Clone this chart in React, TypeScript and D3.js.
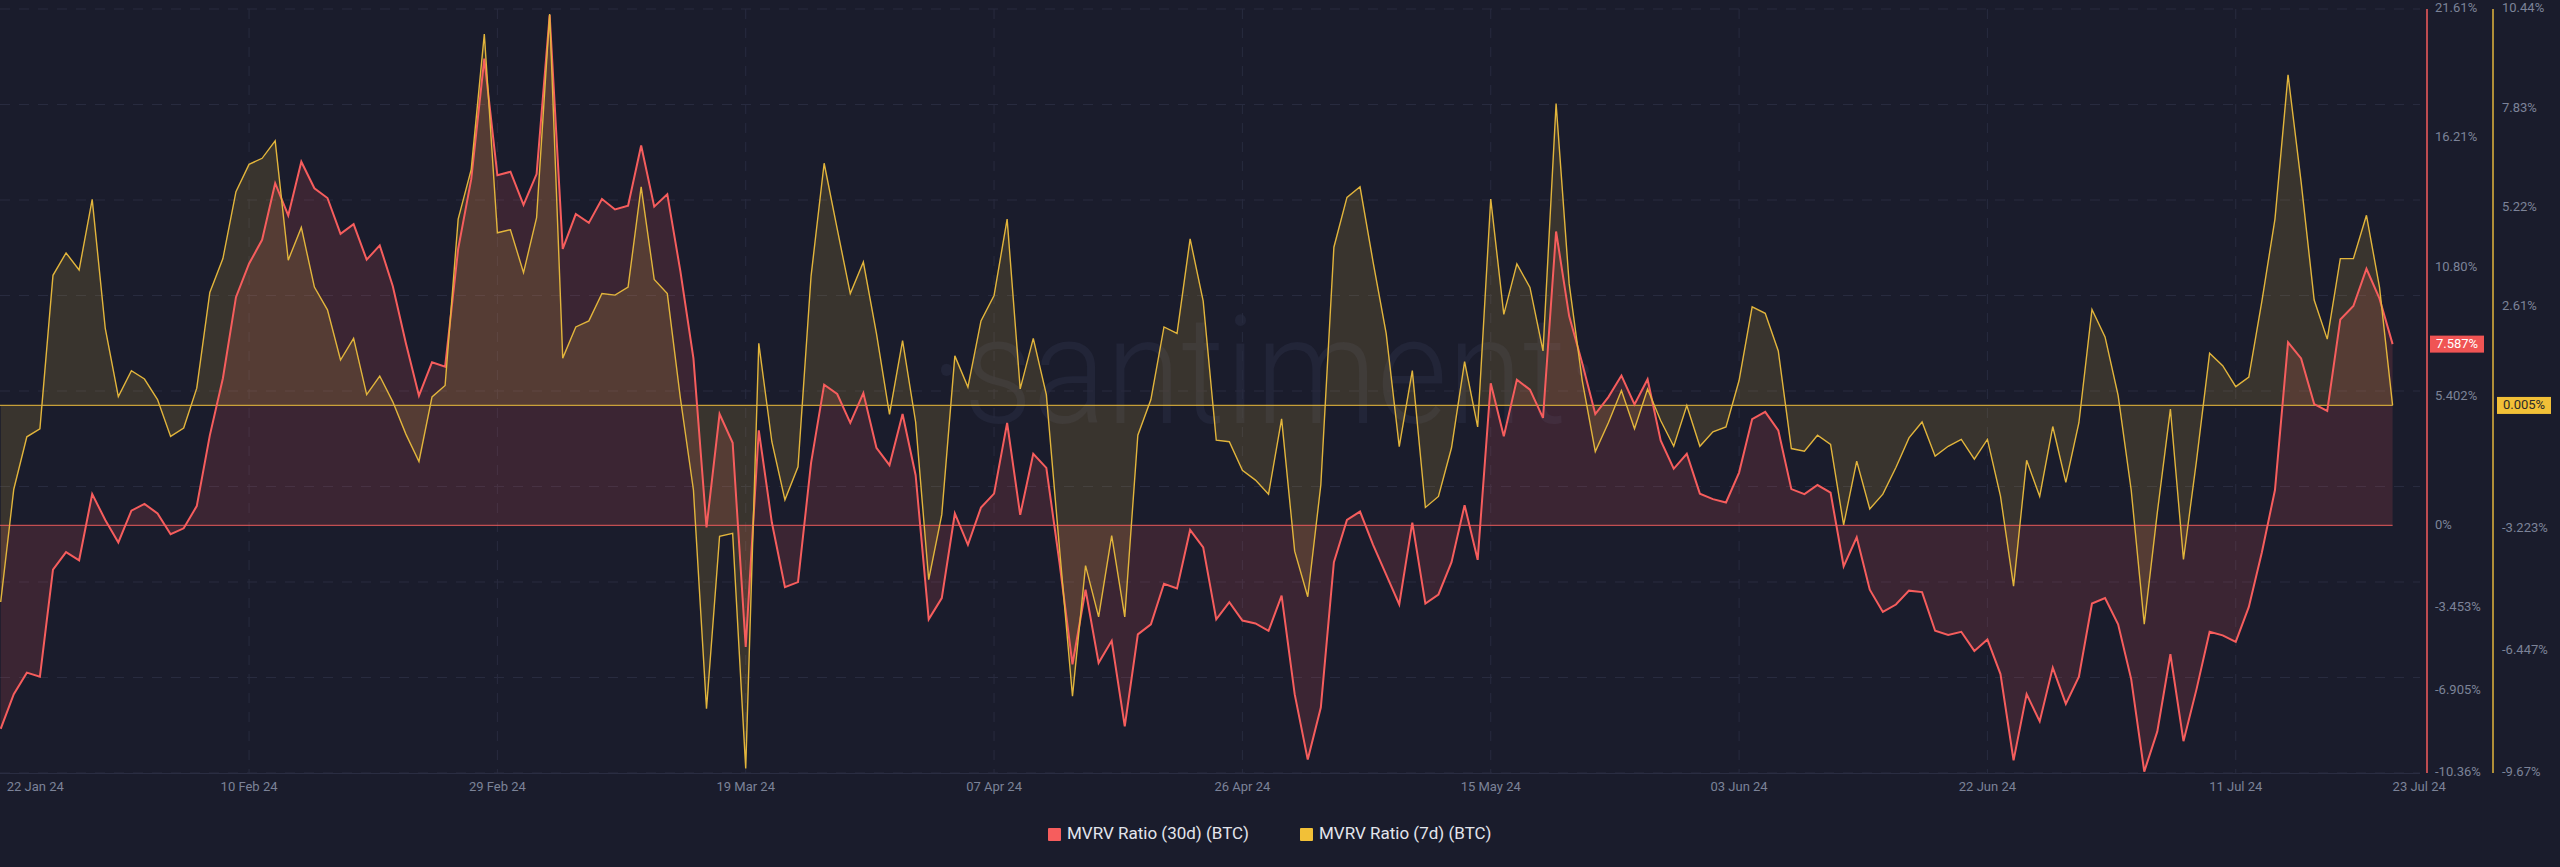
import React from 'react';
import * as d3 from 'd3';

const START_DATE = '2024-01-22';

// MVRV Ratio (30d) (BTC), % daily values
const red30: number[] = [
  -8.51, -7.06, -6.16, -6.33, -1.85, -1.12, -1.46, 1.31, 0.23, -0.71,
  0.62, 0.90, 0.50, -0.37, -0.12, 0.81, 3.77, 6.16, 9.55, 10.95,
  11.95, 14.32, 12.97, 15.22, 14.11, 13.70, 12.20, 12.61, 11.12, 11.72,
  10.01, 7.62, 5.43, 6.83, 6.64, 11.57, 14.49, 19.53, 14.65, 14.80,
  13.41, 14.70, 21.36, 11.57, 13.03, 12.66, 13.66, 13.22, 13.38, 15.90,
  13.34, 13.86, 10.64, 6.99, -0.08, 4.66, 3.46, -5.08, 3.98, 0.12,
  -2.58, -2.37, 2.62, 5.89, 5.50, 4.29, 5.54, 3.25, 2.52, 4.66,
  2.10, -3.93, -3.04, 0.50, -0.81, 0.75, 1.33, 4.29, 0.44, 3.00,
  2.41, -1.54, -5.81, -2.69, -5.75, -4.83, -8.41, -4.56, -4.14, -2.44,
  -2.64, -0.19, -0.92, -3.93, -3.21, -3.98, -4.10, -4.41, -2.94, -7.06,
  -9.80, -7.62, -1.54, 0.23, 0.58, -0.81, -2.06, -3.31, 0.12, -3.27,
  -2.89, -1.54, 0.85, -1.44, 5.95, 3.73, 6.10, 5.68, 4.50, 12.30,
  8.76, 6.79, 4.66, 5.37, 6.27, 5.06, 6.12, 3.56, 2.37, 3.00,
  1.33, 1.10, 0.96, 2.21, 4.45, 4.75, 3.98, 1.52, 1.31, 1.69,
  1.37, -1.71, -0.50, -2.69, -3.62, -3.31, -2.73, -2.79, -4.41, -4.58,
  -4.45, -5.25, -4.77, -6.22, -9.83, -7.06, -8.20, -5.95, -7.47, -6.33,
  -3.27, -3.04, -4.14, -6.43, -10.3, -8.62, -5.39, -9.03, -6.85, -4.45,
  -4.60, -4.87, -3.41, -1.12, 1.48, 7.66, 6.99, 5.08, 4.79, 8.62,
  9.18, 10.74, 9.49, 7.587,
];

// MVRV Ratio (7d) (BTC), % daily values
const yel7: number[] = [
  -5.17, -2.20, -0.82, -0.61, 3.43, 4.02, 3.57, 5.43, 2.03, 0.24,
  0.92, 0.70, 0.16, -0.81, -0.59, 0.46, 2.98, 3.87, 5.63, 6.35,
  6.51, 6.97, 3.83, 4.69, 3.12, 2.52, 1.20, 1.77, 0.29, 0.78,
  0.10, -0.75, -1.47, 0.23, 0.53, 4.91, 6.22, 9.78, 4.55, 4.63,
  3.50, 4.95, 10.31, 1.25, 2.07, 2.23, 2.95, 2.91, 3.12, 5.76,
  3.32, 2.95, 0.20, -2.22, -7.98, -3.44, -3.36, -9.55, 1.64, -0.95,
  -2.48, -1.61, 3.41, 6.38, 4.65, 2.95, 3.78, 1.90, -0.23, 1.71,
  -0.43, -4.58, -2.87, 1.31, 0.49, 2.23, 2.90, 4.91, 0.44, 1.77,
  0.29, -3.73, -7.65, -4.21, -5.56, -3.42, -5.56, -0.78, 0.16, 2.07,
  1.90, 4.39, 2.75, -0.91, -0.95, -1.70, -1.96, -2.33, -0.35, -3.83,
  -5.03, -2.09, 4.17, 5.48, 5.76, 3.78, 1.90, -1.08, 0.92, -2.68,
  -2.39, -1.11, 1.16, -0.56, 5.44, 2.40, 3.73, 3.11, 1.44, 7.95,
  3.21, 0.66, -1.21, -0.45, 0.40, -0.61, 0.44, -0.39, -1.07, 0.005,
  -1.07, -0.69, -0.56, 0.66, 2.60, 2.43, 1.44, -1.13, -1.20, -0.78,
  -1.02, -3.14, -1.46, -2.72, -2.33, -1.63, -0.85, -0.43, -1.33, -1.07,
  -0.89, -1.41, -0.89, -2.38, -4.75, -1.44, -2.39, -0.55, -2.02, -0.45,
  2.53, 1.81, 0.27, -2.22, -5.75, -2.81, -0.09, -4.05, -1.44, 1.38,
  1.05, 0.50, 0.75, 2.75, 4.91, 8.71, 5.89, 2.78, 1.75, 3.87,
  3.87, 5.01, 3.11, 0.005,
];

const xTickDates = [
  '2024-01-22', '2024-02-10', '2024-02-29', '2024-03-19', '2024-04-07', '2024-04-26',
  '2024-05-15', '2024-06-03', '2024-06-22', '2024-07-11', '2024-07-23',
];

const redDomain = [-10.36, 21.61];
const yelDomain = [-9.67, 10.44];
const redTicks = [21.61, 16.21, 10.80, 5.402, 0, -3.453, -6.905, -10.36];
const redTickLabels = ['21.61%', '16.21%', '10.80%', '5.402%', '0%', '-3.453%', '-6.905%', '-10.36%'];
const yelTicks = [10.44, 7.83, 5.22, 2.61, -3.223, -6.447, -9.67];
const yelTickLabels = ['10.44%', '7.83%', '5.22%', '2.61%', '-3.223%', '-6.447%', '-9.67%'];
const redBaseline = 0;
const yelBaseline = 0.005;

const seriesNames = ['MVRV Ratio (30d) (BTC)', 'MVRV Ratio (7d) (BTC)'];

const W = 2560;
const H = 867;
const BG = '#1a1c2c';
const RED = '#f65d5d';
const YEL = '#e2b53c';
const GRID = '#282b3f';
const LABEL = '#7c8398';
const FONT = 'Roboto, "Noto Sans", sans-serif';

export default function App() {
  const parse = d3.timeParse('%Y-%m-%d');
  const start = parse(START_DATE) as Date;
  const dates = red30.map((_, i) => d3.timeDay.offset(start, i));
  const endDate = dates[dates.length - 1];

  const top = 9;
  const bottom = 773;
  const plotRight = 2420;

  const x = d3.scaleTime().domain([start, endDate]).range([0.7, 2392.6]);
  const yR = d3.scaleLinear().domain(redDomain).range([bottom, top]);
  const yY = d3.scaleLinear().domain(yelDomain).range([bottom, top]);
  const gridY = d3.scaleLinear().domain([0, 8]).range([top, bottom]);

  const redArea = d3.area<number>()
    .x((_, i) => x(dates[i]))
    .y0(yR(redBaseline))
    .y1((d) => yR(d));
  const redLine = d3.line<number>().x((_, i) => x(dates[i])).y((d) => yR(d));
  const yelArea = d3.area<number>()
    .x((_, i) => x(dates[i]))
    .y0(yY(yelBaseline))
    .y1((d) => yY(d));
  const yelLine = d3.line<number>().x((_, i) => x(dates[i])).y((d) => yY(d));

  const fmt = d3.timeFormat('%d %b %y');
  const tickDates = xTickDates.map((s) => parse(s) as Date);

  const redAxisX = 2427;
  const yelAxisX = 2493;
  const lastRed = red30[red30.length - 1];
  const lastYel = yel7[yel7.length - 1];

  return (
    <svg
      width={W}
      height={H}
      style={{ position: 'absolute', left: 0, top: 0, display: 'block' }}
      fontFamily={FONT}
    >
      <rect x={0} y={0} width={W} height={H} fill={BG} />

      {/* watermark */}
      <text
        x={1265}
        y={423}
        textAnchor="middle"
        fontSize={150}
        fontWeight={300}
        fill="#222538"
        textLength={670}
        lengthAdjust="spacingAndGlyphs"
      >
        ·santiment·
      </text>

      {/* horizontal grid */}
      {d3.range(9).map((k) => (
        <line
          key={'hg' + k}
          x1={0}
          x2={plotRight}
          y1={gridY(k)}
          y2={gridY(k)}
          stroke={GRID}
          strokeWidth={1}
          strokeDasharray="10,9"
        />
      ))}
      {/* vertical grid */}
      {tickDates.slice(1, -1).map((d, k) => (
        <line
          key={'vg' + k}
          x1={x(d)}
          x2={x(d)}
          y1={top}
          y2={bottom}
          stroke={GRID}
          strokeWidth={1}
          strokeDasharray="10,9"
        />
      ))}

      {/* areas */}
      <path d={redArea(red30) || ''} fill={RED} fillOpacity={0.15} />
      <path d={yelArea(yel7) || ''} fill={YEL} fillOpacity={0.16} />

      {/* baselines */}
      <line x1={0} x2={x(endDate)} y1={yR(redBaseline)} y2={yR(redBaseline)} stroke={RED} strokeOpacity={0.75} strokeWidth={1.2} />
      <line x1={0} x2={x(endDate)} y1={yY(yelBaseline)} y2={yY(yelBaseline)} stroke={YEL} strokeOpacity={0.85} strokeWidth={1.2} />

      {/* lines */}
      <path d={redLine(red30) || ''} fill="none" stroke={RED} strokeWidth={2} strokeLinejoin="miter" />
      <path d={yelLine(yel7) || ''} fill="none" stroke={YEL} strokeWidth={1.4} strokeLinejoin="miter" />

      {/* x axis */}
      <line x1={0} x2={plotRight} y1={bottom + 0.5} y2={bottom + 0.5} stroke="#2a2d42" strokeWidth={1} />
      {tickDates.map((d, k) => {
        const isFirst = k === 0;
        const isLast = k === tickDates.length - 1;
        const tx = isFirst ? x(d) + 6 : x(d);
        return (
          <text
            key={'xt' + k}
            x={tx}
            y={788}
            textAnchor={isFirst || isLast ? 'start' : 'middle'}
            dominantBaseline="middle"
            fontSize={13}
            fill={LABEL}
          >
            {fmt(d)}
          </text>
        );
      })}

      {/* right axes */}
      <line x1={redAxisX} x2={redAxisX} y1={top} y2={bottom} stroke={RED} strokeWidth={1.5} />
      <line x1={yelAxisX} x2={yelAxisX} y1={top} y2={bottom} stroke={YEL} strokeWidth={1.5} />
      {redTicks.map((v, k) => (
        <text key={'rt' + k} x={redAxisX + 8} y={yR(v)} dominantBaseline="middle" fontSize={13} fill={LABEL}>
          {redTickLabels[k]}
        </text>
      ))}
      {yelTicks.map((v, k) => (
        <text key={'yt' + k} x={yelAxisX + 9} y={yY(v)} dominantBaseline="middle" fontSize={13} fill={LABEL}>
          {yelTickLabels[k]}
        </text>
      ))}

      {/* last value badges */}
      <rect x={redAxisX + 3} y={yR(lastRed) - 8.5} width={54} height={17} fill="#f05454" />
      <text x={redAxisX + 30} y={yR(lastRed) + 0.5} textAnchor="middle" dominantBaseline="middle" fontSize={13} fill="#ffffff">
        {lastRed.toFixed(3) + '%'}
      </text>
      <rect x={yelAxisX + 4} y={yY(lastYel) - 8.5} width={54} height={17} fill="#f2c037" />
      <text x={yelAxisX + 31} y={yY(lastYel) + 0.5} textAnchor="middle" dominantBaseline="middle" fontSize={13} fill="#2a2a2a">
        {lastYel.toFixed(3) + '%'}
      </text>

      {/* legend */}
      <rect x={1048} y={828} width={13} height={13} fill={RED} rx={1} />
      <text x={1067} y={835} dominantBaseline="middle" fontSize={17} fill="#e3e5ec">
        {seriesNames[0]}
      </text>
      <rect x={1300} y={828} width={13} height={13} fill="#f2c037" rx={1} />
      <text x={1319} y={835} dominantBaseline="middle" fontSize={17} fill="#e3e5ec">
        {seriesNames[1]}
      </text>
    </svg>
  );
}
